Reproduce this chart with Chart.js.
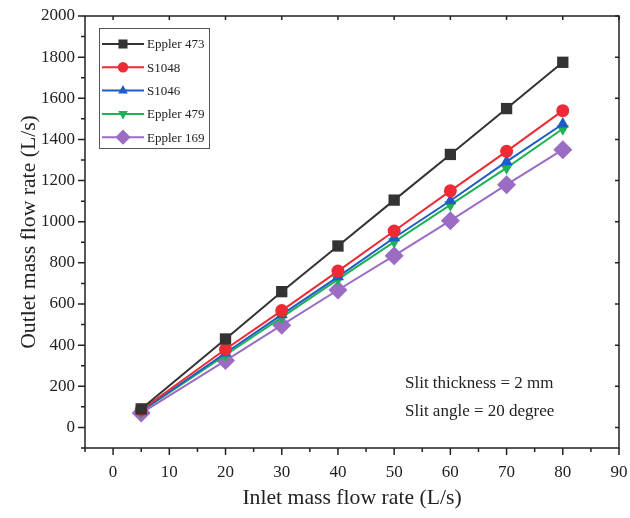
<!DOCTYPE html>
<html>
<head>
<meta charset="utf-8">
<script src="https://cdn.jsdelivr.net/npm/chart.js@4.4.0/dist/chart.umd.min.js"></script>
<style>
  html, body { margin: 0; padding: 0; background: #fff; }
  #wrap { width: 630px; height: 518px; }
</style>
</head>
<body>
<div id="wrap"><canvas id="flowChart" width="630" height="518"></canvas></div>
<script>
// data
const inletRates = [5, 20, 30, 40, 50, 60, 70, 80];
const eppler473 = [90, 430, 660, 882, 1105, 1327, 1550, 1775];
const s1048 = [85, 380, 568, 760, 955, 1150, 1342, 1540];
const s1046 = [80, 362, 548, 732, 922, 1102, 1292, 1475];
const eppler479 = [78, 352, 535, 720, 902, 1082, 1262, 1452];
const eppler169 = [70, 325, 497, 668, 835, 1005, 1180, 1350];
const seriesNames = ["Eppler 473", "S1048", "S1046", "Eppler 479", "Eppler 169"];
const xTicks = [0, 10, 20, 30, 40, 50, 60, 70, 80, 90];
const yTicks = [0, 200, 400, 600, 800, 1000, 1200, 1400, 1600, 1800, 2000];
const noteLines = ["Slit thickness = 2 mm", "Slit angle = 20 degree"];

const FONT = "'Liberation Serif', 'Times New Roman', serif";
const INK = "#222222";

function makeSeries(label, values, color, style, radius, rotation) {
  return {
    label: label,
    data: inletRates.map((x, i) => ({ x: x, y: values[i] })),
    borderColor: color,
    backgroundColor: color,
    borderWidth: 2,
    pointStyle: style,
    pointRotation: rotation || 0,
    pointRadius: radius,
    pointBorderWidth: 0,
    showLine: true,
  };
}

const datasets = [
  makeSeries(seriesNames[0], eppler473, "#333333", "rect", 8),
  makeSeries(seriesNames[1], s1048, "#ee2a35", "circle", 6.5),
  makeSeries(seriesNames[2], s1046, "#1f5cc6", "triangle", 7),
  makeSeries(seriesNames[3], eppler479, "#1fb155", "triangle", 7, 180),
  makeSeries(seriesNames[4], eppler169, "#9b6cc4", "rectRot", 9.5),
];

// frame, minor/major ticks, legend box and note text
const decorations = {
  id: "decorations",
  afterDraw(chart) {
    const ctx = chart.ctx;
    const area = chart.chartArea;
    const xs = chart.scales.x;
    const ys = chart.scales.y;
    ctx.save();
    ctx.strokeStyle = INK;
    ctx.lineWidth = 1.5;
    ctx.strokeRect(area.left, area.top, area.right - area.left, area.bottom - area.top);

    ctx.beginPath();
    for (let v = -5; v <= 90; v += 5) {
      const px = xs.getPixelForValue(v);
      const major = v % 10 === 0;
      const len = major ? 7 : 4;
      ctx.moveTo(px, area.bottom);
      ctx.lineTo(px, area.bottom + len);
      if (major) {
        ctx.moveTo(px, area.top);
        ctx.lineTo(px, area.top + 4);
      }
    }
    for (let v = -100; v <= 2000; v += 100) {
      const py = ys.getPixelForValue(v);
      const major = v % 200 === 0;
      const len = major ? 7 : 4;
      ctx.moveTo(area.left, py);
      ctx.lineTo(area.left - len, py);
      if (major) {
        ctx.moveTo(area.right, py);
        ctx.lineTo(area.right - 4, py);
      }
    }
    ctx.stroke();

    // legend
    const lx = 99, ly = 28, lw = 110, lh = 120;
    ctx.fillStyle = "#fff";
    ctx.fillRect(lx, ly, lw, lh);
    ctx.strokeStyle = "#555";
    ctx.lineWidth = 1;
    ctx.strokeRect(lx + 0.5, ly + 0.5, lw, lh);
    ctx.font = "13px " + FONT;
    ctx.textBaseline = "middle";
    chart.data.datasets.forEach((ds, i) => {
      const y = ly + 16 + i * 23.3;
      ctx.strokeStyle = ds.borderColor;
      ctx.lineWidth = 2;
      ctx.beginPath();
      ctx.moveTo(lx + 3, y);
      ctx.lineTo(lx + 45, y);
      ctx.stroke();
      ctx.fillStyle = ds.backgroundColor;
      Chart.helpers.drawPoint(ctx, {
        pointStyle: ds.pointStyle,
        rotation: ds.pointRotation,
        radius: ds.pointRadius * 0.8,
        borderWidth: 0,
      }, lx + 24, y);
      ctx.fillStyle = INK;
      ctx.fillText(ds.label, lx + 48, y + 1);
    });

    // note
    ctx.font = "17px " + FONT;
    ctx.fillStyle = INK;
    ctx.textBaseline = "middle";
    ctx.textAlign = "left";
    noteLines.forEach((t, i) => ctx.fillText(t, 405, 384 + i * 28));
    ctx.restore();
  },
};

const chart = new Chart(document.getElementById("flowChart"), {
  type: "scatter",
  data: { datasets: datasets },
  options: {
    responsive: false,
    animation: false,
    layout: { padding: { top: 16, right: 11, left: 0, bottom: 0 } },
    plugins: { legend: { display: false }, tooltip: { enabled: false } },
    scales: {
      x: {
        type: "linear",
        min: -5,
        max: 90,
        afterBuildTicks: (scale) => {
          scale.ticks = xTicks.map((v) => ({ value: v }));
        },
        afterFit: (scale) => {
          scale.height = 70;
          scale.paddingLeft = 0;
          scale.paddingRight = 0;
        },
        grid: { display: false },
        border: { display: false },
        ticks: {
          color: INK,
          padding: 6,
          font: { family: FONT, size: 17 },
          callback: (v) => String(v),
        },
        title: {
          display: true,
          text: "Inlet mass flow rate (L/s)",
          color: INK,
          font: { family: FONT, size: 21.7 },
          padding: { top: 0, bottom: 7 },
        },
      },
      y: {
        type: "linear",
        min: -100,
        max: 2000,
        afterBuildTicks: (scale) => {
          scale.ticks = yTicks.map((v) => ({ value: v }));
        },
        afterFit: (scale) => {
          scale.width = 85;
          scale.paddingTop = 0;
          scale.paddingBottom = 0;
        },
        grid: { display: false },
        border: { display: false },
        ticks: {
          color: INK,
          padding: 2,
          font: { family: FONT, size: 17 },
          callback: (v) => String(v),
        },
        title: {
          display: true,
          text: "Outlet mass flow rate (L/s)",
          color: INK,
          font: { family: FONT, size: 21.7 },
          padding: { top: 16, bottom: 0 },
        },
      },
    },
  },
  plugins: [decorations],
});
</script>
</body>
</html>
